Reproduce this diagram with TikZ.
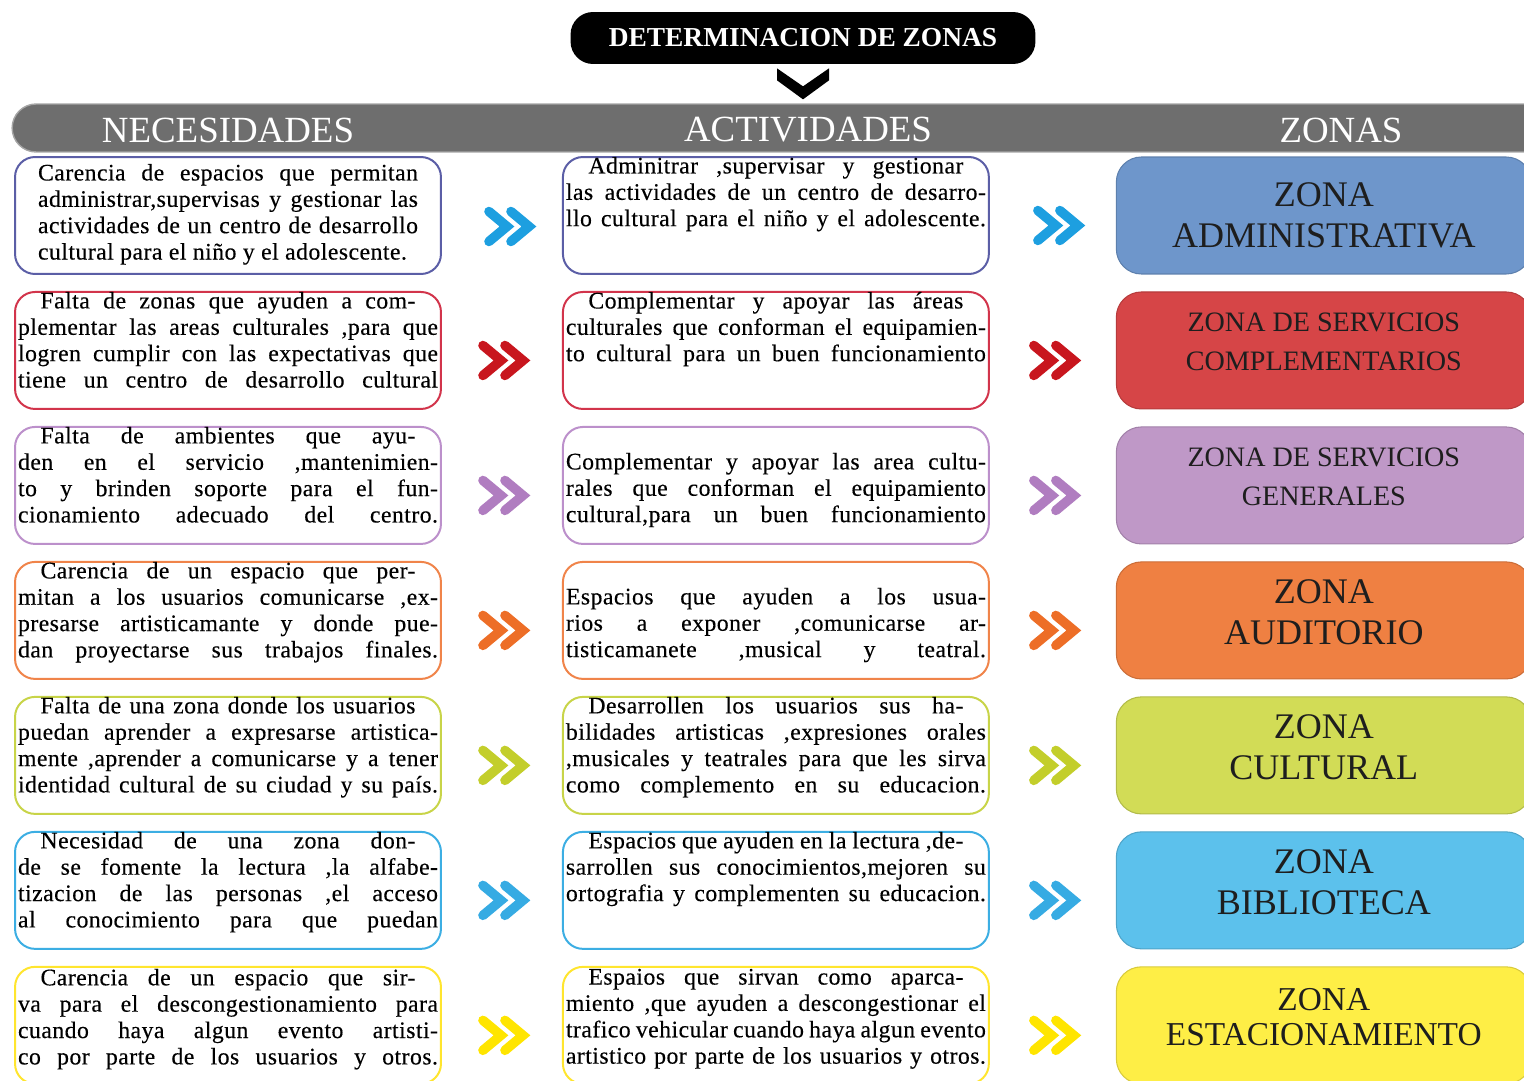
\documentclass[tikz,border=0pt]{standalone}
\usepackage{fontspec}
\setmainfont{Liberation Serif}
\newfontfamily\cellfont[LetterSpace=2,FakeBold=0.3]{Liberation Serif}
\usepackage{tikz}
\usepackage{xcolor}
\usetikzlibrary{positioning,calc}
\definecolor{lnblue}{HTML}{5B5EA6}
\definecolor{chblue}{HTML}{1D9FE0}
\definecolor{fiblue}{HTML}{6E96CB}
\definecolor{lnred}{HTML}{D2344B}
\definecolor{chred}{HTML}{C8161E}
\definecolor{fired}{HTML}{D64547}
\definecolor{lnpurple}{HTML}{BC90CB}
\definecolor{chpurple}{HTML}{B07DC0}
\definecolor{fipurple}{HTML}{BF98C7}
\definecolor{lnorange}{HTML}{F0844A}
\definecolor{chorange}{HTML}{ED6E27}
\definecolor{fiorange}{HTML}{EF8042}
\definecolor{lnlime}{HTML}{C8D448}
\definecolor{chlime}{HTML}{C3CE2B}
\definecolor{filime}{HTML}{D2DC56}
\definecolor{lncyan}{HTML}{3CAEE3}
\definecolor{chcyan}{HTML}{36ABE3}
\definecolor{ficyan}{HTML}{5CC1EC}
\definecolor{lnyellow}{HTML}{FFE52E}
\definecolor{chyellow}{HTML}{FFE500}
\definecolor{fiyellow}{HTML}{FEEE46}
\definecolor{bandgray}{HTML}{6E6E6E}
\definecolor{bandline}{HTML}{A5A5A5}
\definecolor{zntext}{HTML}{1E1E1E}
\newcommand{\cellfill}[2][0cm]{\vbox to 2.34cm{\vskip#1\relax#2\par\vfil}}
\newcommand{\fullpar}{\parfillskip=0pt\relax}
\newcommand{\firstin}{\hspace*{0.45cm}}
\newcommand{\zdrop}{\rule[-0.34cm]{0pt}{0pt}}

\begin{document}
\begin{tikzpicture}[
        x=0.02cm, y=-0.02cm,
        node distance=0.32cm,
        cell/.style={
          draw,
          fill=white,
          line width=0.04cm,
          rounded corners=0.4cm,
          text width=8.4cm,
          inner xsep=0.06cm,
          inner ysep=0cm,
          minimum height=2.34cm,
          align=justify,
          font={\cellfont\fontsize{13.5}{15}\selectfont}
        },
        zone/.style={
          draw=#1!85!black,
          fill=#1,
          line width=0.6pt,
          rounded corners=0.5cm,
          minimum width=8.3cm,
          minimum height=2.34cm,
          align=center,
          text=zntext,
          font=\fontsize{20.5}{23.2}\selectfont
        },
        zsmall/.style={font=\fontsize{16}{22}\selectfont},
        head/.style={text=white, font=\fontsize{21}{21}\selectfont},
        pics/dchev/.style={code={
          \draw[#1, line width=0.19cm, line cap=round, line join=miter]
            (-21,-15) -- (-3,0) -- (-21,15) (1,-15) -- (19,0) -- (1,15);
        }}
      ]
      \useasboundingbox (0,0) rectangle (1524,1081);

      \node[draw=bandline, fill=bandgray, line width=0.8pt, rounded corners=0.48cm,
            minimum width=30.96cm, minimum height=0.96cm] (band) at (786,128) {};
      \node[head] (hneed) at (228,130) {NECESIDADES};
      \node[head] (hact) at (808,130) {ACTIVIDADES};
      \node[head] (hzon) at (1341,130) {ZONAS};

      \node[fill=black, text=white, rounded corners=0.45cm, minimum width=9.3cm,
            minimum height=1.04cm, font=\bfseries\fontsize{15.6}{15.6}\selectfont]
            (title) at (803,38) {DETERMINACION DE ZONAS};
      \fill[shift={(title.south)}] (-26,4) -- (0,22) -- (26,4) -- (26,16) -- (0,35) -- (-26,16) -- cycle;

      \node[cell, draw=lnblue, text width=7.6cm, inner xsep=0.46cm] (need1) at (228,215.5)
        {\cellfill[0.14cm]{Carencia de espacios que permitan\linebreak
         administrar,supervisas y gestionar las\linebreak
         actividades de un centro de desarrollo\linebreak
         cultural para el niño y el adolescente.}};
      \node[cell, draw=lnred, below=of need1] (need2)
        {\cellfill{\fullpar\firstin Falta de zonas que ayuden a com-\firstin\linebreak
         plementar las areas culturales ,para que\linebreak
         logren cumplir con las expectativas que\linebreak
         tiene un centro de desarrollo cultural}};
      \node[cell, draw=lnpurple, below=of need2] (need3)
        {\cellfill{\fullpar\firstin Falta de ambientes que ayu-\firstin\linebreak
         den en el servicio ,mantenimien-\linebreak
         to y brinden soporte para el fun-\linebreak
         cionamiento adecuado del centro.}};
      \node[cell, draw=lnorange, below=of need3] (need4)
        {\cellfill{\fullpar\firstin Carencia de un espacio que per-\firstin\linebreak
         mitan a los usuarios comunicarse ,ex-\linebreak
         presarse artisticamante y donde pue-\linebreak
         dan proyectarse sus trabajos finales.}};
      \node[cell, draw=lnlime, below=of need4] (need5)
        {\cellfill{\fullpar\firstin Falta de una zona donde los usuarios\firstin\linebreak
         puedan aprender a expresarse artistica-\linebreak
         mente ,aprender a comunicarse y a tener\linebreak
         identidad cultural de su ciudad y su país.}};
      \node[cell, draw=lncyan, below=of need5] (need6)
        {\cellfill{\fullpar\firstin Necesidad de una zona don-\firstin\linebreak
         de se fomente la lectura ,la alfabe-\linebreak
         tizacion de las personas ,el acceso\linebreak
         al conocimiento para que puedan}};
      \node[cell, draw=lnyellow, below=of need6] (need7)
        {\cellfill[0.04cm]{\fullpar\firstin Carencia de un espacio que sir-\firstin\linebreak
         va para el descongestionamiento para\linebreak
         cuando haya algun evento artisti-\linebreak
         co por parte de los usuarios y otros.}};

      \node[cell, draw=lnblue, right=2.4cm of need1] (act1)
        {\cellfill{\fullpar\firstin Adminitrar ,supervisar y gestionar\firstin\linebreak
         las actividades de un centro de desarro-\linebreak
         llo cultural para el niño y el adolescente.}};
      \node[cell, draw=lnred, right=2.4cm of need2] (act2)
        {\cellfill{\fullpar\firstin Complementar y apoyar las áreas\firstin\linebreak
         culturales que conforman el equipamien-\linebreak
         to cultural para un buen funcionamiento}};
      \node[cell, draw=lnpurple, right=2.4cm of need3] (act3)
        {\cellfill[0.52cm]{\fullpar Complementar y apoyar las area cultu-\linebreak
         rales que conforman el equipamiento\linebreak
         cultural,para un buen funcionamiento}};
      \node[cell, draw=lnorange, right=2.4cm of need4] (act4)
        {\cellfill[0.52cm]{\fullpar Espacios que ayuden a los usua-\linebreak
         rios a exponer ,comunicarse ar-\linebreak
         tisticamanete ,musical y teatral.}};
      \node[cell, draw=lnlime, right=2.4cm of need5] (act5)
        {\cellfill{\fullpar\firstin Desarrollen los usuarios sus ha-\firstin\linebreak
         bilidades artisticas ,expresiones orales\linebreak
         ,musicales y teatrales para que les sirva\linebreak
         como complemento en su educacion.}};
      \node[cell, draw=lncyan, right=2.4cm of need6] (act6)
        {\cellfill{\fullpar\firstin Espacios que ayuden en la lectura ,de-\firstin\linebreak
         sarrollen sus conocimientos,mejoren su\linebreak
         ortografia y complementen su educacion.}};
      \node[cell, draw=lnyellow, right=2.4cm of need7] (act7)
        {\cellfill[0.04cm]{\fullpar\firstin Espaios que sirvan como aparca-\firstin\linebreak
         miento ,que ayuden a descongestionar el\linebreak
         trafico vehicular cuando haya algun evento\linebreak
         artistico por parte de los usuarios y otros.}};

      \node[zone=fiblue, right=2.52cm of act1] (zon1) {ZONA\\ADMINISTRATIVA};
      \node[zone=fired, zsmall, right=2.52cm of act2] (zon2) {ZONA DE SERVICIOS\\COMPLEMENTARIOS\zdrop};
      \node[zone=fipurple, zsmall, right=2.52cm of act3] (zon3) {ZONA DE SERVICIOS\\GENERALES\zdrop};
      \node[zone=fiorange, right=2.52cm of act4] (zon4) {ZONA\\AUDITORIO\zdrop};
      \node[zone=filime, right=2.52cm of act5] (zon5) {ZONA\\CULTURAL\zdrop};
      \node[zone=ficyan, right=2.52cm of act6] (zon6) {ZONA\\BIBLIOTECA\zdrop};
      \node[zone=fiyellow, font=\fontsize{19}{20}\selectfont, right=2.52cm of act7] (zon7) {ZONA\\ESTACIONAMIENTO\zdrop};

      \pic at ($(need1.east)!0.5!(act1.west)+(8,11)$) {dchev=chblue};
      \pic at ($(need2.east)!0.5!(act2.west)+(2,10)$) {dchev=chred};
      \pic at ($(need3.east)!0.5!(act3.west)+(2,10)$) {dchev=chpurple};
      \pic at ($(need4.east)!0.5!(act4.west)+(2,10)$) {dchev=chorange};
      \pic at ($(need5.east)!0.5!(act5.west)+(2,10)$) {dchev=chlime};
      \pic at ($(need6.east)!0.5!(act6.west)+(2,10)$) {dchev=chcyan};
      \pic at ($(need7.east)!0.5!(act7.west)+(2,10)$) {dchev=chyellow};

      \pic at ($(act1.east)!0.5!(zon1.west)+(6,10)$) {dchev=chblue};
      \pic at ($(act2.east)!0.5!(zon2.west)+(2,10)$) {dchev=chred};
      \pic at ($(act3.east)!0.5!(zon3.west)+(2,10)$) {dchev=chpurple};
      \pic at ($(act4.east)!0.5!(zon4.west)+(2,10)$) {dchev=chorange};
      \pic at ($(act5.east)!0.5!(zon5.west)+(2,10)$) {dchev=chlime};
      \pic at ($(act6.east)!0.5!(zon6.west)+(2,10)$) {dchev=chcyan};
      \pic at ($(act7.east)!0.5!(zon7.west)+(2,10)$) {dchev=chyellow};

      \end{tikzpicture}
\end{document}
